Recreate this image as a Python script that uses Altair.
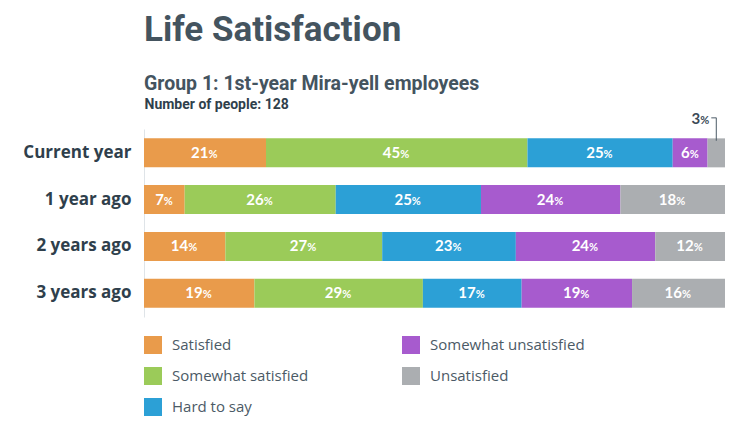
import altair as alt
import pandas as pd

periods = ["Current year", "1 year ago", "2 years ago", "3 years ago"]
categories = ["Satisfied", "Somewhat satisfied", "Hard to say", "Somewhat unsatisfied", "Unsatisfied"]
colors = ["#E99B4B", "#9BCB59", "#2CA0D6", "#A75BCE", "#ABAEB1"]

satisfied = [21, 7, 14, 19]
somewhat_satisfied = [45, 26, 27, 29]
hard_to_say = [25, 25, 23, 17]
somewhat_unsatisfied = [6, 24, 24, 19]
unsatisfied = [3, 18, 12, 16]

series = [satisfied, somewhat_satisfied, hard_to_say, somewhat_unsatisfied, unsatisfied]
rows = []
for ci, (cat, vals) in enumerate(zip(categories, series)):
    for p, v in zip(periods, vals):
        rows.append({"period": p, "category": cat, "value": v, "order": ci})
df = pd.DataFrame(rows)

TITLE_FONT = "Roboto"
LABEL_FONT = "Open Sans"
NUM_FONT = "Lato"
LEGEND_FONT = "Open Sans"
DARK = "#2f3f4c"

base = alt.Chart(df).transform_stack(
    stack="value", groupby=["period"], sort=[alt.SortField("order")], as_=["x0", "x1"]
).transform_calculate(
    mid="(datum.x0 + datum.x1) / 2",
    split="(datum.x0 + datum.x1) / 2 + (length(toString(datum.value)) * 8 - 9) / 2 / 5.81",
)

yenc = alt.Y(
    "period:N",
    sort=periods,
    scale=alt.Scale(paddingInner=0.38, paddingOuter=0.2),
    axis=alt.Axis(
        title=None, ticks=False, domain=True, domainColor="#dfe4e8", domainWidth=1,
        labelFont=LABEL_FONT, labelFontSize=17, labelFontWeight="bold", labelColor=DARK,
        labelPadding=13, minExtent=125, maxExtent=125,
    ),
)

bars = base.mark_bar().encode(
    y=yenc,
    x=alt.X(
        "x0:Q",
        scale=alt.Scale(domain=[0, 100], nice=False, zero=True),
        axis=alt.Axis(
            orient="top", title="Number of people: 128", labels=False, ticks=False,
            domain=False, grid=False, titleAnchor="start", titleAlign="left",
            titleFont=TITLE_FONT, titleFontSize=14, titleFontWeight="bold",
            titleColor=DARK, titlePadding=18,
        ),
    ),
    x2="x1:Q",
    color=alt.Color(
        "category:N",
        scale=alt.Scale(domain=categories, range=colors),
        legend=alt.Legend(
            title=None, orient="none", legendX=0, legendY=207, columns=2,
            symbolType="square", symbolSize=324, symbolStrokeWidth=0, symbolOpacity=1,
            labelFont=LEGEND_FONT, labelFontSize=15, labelColor="#4b5a66",
            labelOffset=10, rowPadding=13, columnPadding=93, padding=0,
        ),
    ),
)

inside = base.transform_filter("datum.value >= 5")
num_in = inside.mark_text(
    align="right", baseline="alphabetic", dy=5, font=NUM_FONT, fontSize=15,
    fontWeight="bold", color="white",
).encode(y=alt.Y("period:N", sort=periods), x="split:Q", text="value:Q")
pct_in = inside.mark_text(
    align="left", baseline="alphabetic", dy=5, font=NUM_FONT, fontSize=11,
    fontWeight="bold", color="white",
).encode(y=alt.Y("period:N", sort=periods), x="split:Q", text=alt.value("%"))

outside = base.transform_filter("datum.value < 5")
num_out = outside.mark_text(
    align="right", baseline="alphabetic", dy=-29, dx=-16, font=NUM_FONT, fontSize=15,
    fontWeight="bold", color="#3b4a57",
).encode(y=alt.Y("period:N", sort=periods), x="mid:Q", text="value:Q")
pct_out = outside.mark_text(
    align="left", baseline="alphabetic", dy=-29, dx=-16, font=NUM_FONT, fontSize=11,
    fontWeight="bold", color="#3b4a57",
).encode(y=alt.Y("period:N", sort=periods), x="mid:Q", text=alt.value("%"))
vline = outside.mark_tick(
    orient="vertical", size=23, thickness=1, yOffset=-23.5, color="#4b5a66", opacity=1,
).encode(y=alt.Y("period:N", sort=periods), x="mid:Q")
hline = outside.mark_tick(
    orient="horizontal", size=5, thickness=1, xOffset=-2.5, yOffset=-35, color="#4b5a66", opacity=1,
).encode(y=alt.Y("period:N", sort=periods), x="mid:Q")

chart = alt.layer(bars, num_in, pct_in, num_out, pct_out, vline, hline).properties(
    width=581,
    height=188,
    padding={"left": 11, "top": 4, "right": 5, "bottom": 5},
    title=alt.TitleParams(
        text="Life Satisfaction",
        subtitle="Group 1: 1st-year Mira-yell employees",
        anchor="start", frame="group",
        font=TITLE_FONT, fontSize=35, fontWeight="bold", color="#44545f",
        subtitleFont=TITLE_FONT, subtitleFontSize=19.5, subtitleFontWeight="bold",
        subtitleColor="#44545f", subtitlePadding=27, offset=4,
    ),
).configure_view(stroke=None)

chart.save("out.html", embed_options={"renderer": "svg", "actions": False})
